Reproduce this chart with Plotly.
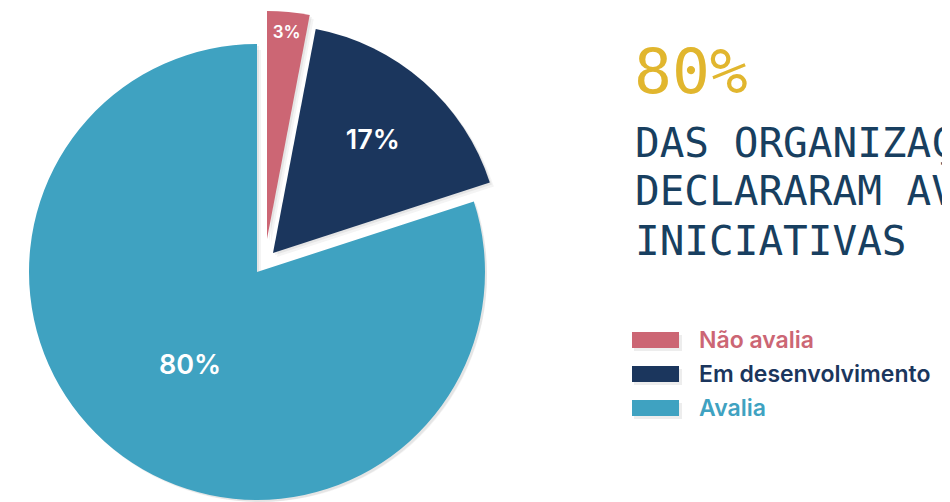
import plotly.graph_objects as go

# ---- data ----
labels = ["Não avalia", "Em desenvolvimento", "Avalia"]
values = [3, 17, 80]
colors = ["#CC6674", "#1B365D", "#3FA2C1"]
headline = "80%"
headline_lines = ["DAS ORGANIZAÇÕES", "DECLARARAM AVALIAR", "INICIATIVAS"]

# the page adds an 8px body margin, so the figure is drawn slightly smaller
PAGE = 8
W, H = 950 - PAGE, 502 - PAGE
R = 228
# slice centres (reference pixels): the two small slices are pulled out of the pie
centres = [(267, 239), (273, 253), (257, 272)]
label_sizes = [17, 27, 27]
TRANSPARENT = "rgba(0,0,0,0)"


def dom(cx, cy, r=R):
    cx, cy = cx - PAGE, cy - PAGE
    r = min(r, H - cy, cy, cx, W - cx)
    return dict(x=[(cx - r) / W, (cx + r) / W], y=[1 - (cy + r) / H, 1 - (cy - r) / H])


def px(x):
    return (x - PAGE) / W


def py(y):
    return 1 - (y - PAGE) / H


fig = go.Figure()

# soft shadows
for dx, dy, a in [(4, 4, 0.05), (2, 2, 0.07)]:
    for i in range(len(values)):
        cx, cy = centres[i]
        fig.add_trace(go.Pie(
            labels=labels, values=values, sort=False, direction="clockwise", rotation=0,
            marker=dict(colors=[f"rgba(40,40,40,{a})" if j == i else TRANSPARENT for j in range(len(values))],
                        line=dict(width=0)),
            textinfo="none", hoverinfo="skip", showlegend=False,
            domain=dom(cx + dx, cy + dy),
        ))

# slices
for i in range(len(values)):
    cx, cy = centres[i]
    fig.add_trace(go.Pie(
        labels=labels, values=values, sort=False, direction="clockwise", rotation=0,
        marker=dict(colors=[colors[j] if j == i else TRANSPARENT for j in range(len(values))],
                    line=dict(width=0)),
        texttemplate=["%{percent:.0%}" if j == i else "" for j in range(len(values))],
        textposition="inside", insidetextorientation="horizontal",
        textfont=dict(family="Inter", size=label_sizes[i], color="white", weight=600),
        hoverinfo="label+percent", showlegend=False,
        domain=dom(cx, cy),
    ))

shapes = []
annotations = []

# legend
leg_y = [340, 374, 408]
for i, lab in enumerate(labels):
    y = leg_y[i]
    shapes.append(dict(type="rect", xref="paper", yref="paper",
                       x0=px(634), x1=px(682), y0=py(y + 11), y1=py(y - 5),
                       fillcolor="rgba(0,0,0,0.07)", line=dict(width=0), layer="below"))
    shapes.append(dict(type="rect", xref="paper", yref="paper",
                       x0=px(632), x1=px(679), y0=py(y + 8), y1=py(y - 8),
                       fillcolor=colors[i], line=dict(width=0)))
    annotations.append(dict(text=lab, x=px(697), y=py(y), xref="paper", yref="paper",
                            xanchor="left", yanchor="middle", showarrow=False,
                            font=dict(family="Inter", size=23, color=colors[i], weight=600)))

# headline
annotations.append(dict(text=headline, x=px(632), y=py(71), xref="paper", yref="paper",
                        xanchor="left", yanchor="middle", showarrow=False,
                        font=dict(family="DejaVu Sans Mono", size=63, color="#E1B62E")))
line_y = [143, 191, 241]
for t, y in zip(headline_lines, line_y):
    annotations.append(dict(text=t, x=px(633), y=py(y), xref="paper", yref="paper",
                            xanchor="left", yanchor="middle", showarrow=False,
                            font=dict(family="DejaVu Sans Mono", size=41, color="#183F60")))

fig.update_layout(
    width=W, height=H, autosize=False,
    margin=dict(l=0, r=0, t=0, b=0),
    paper_bgcolor="white", plot_bgcolor="white",
    shapes=shapes, annotations=annotations,
    showlegend=False,
)

fig.write_html("out.html")
